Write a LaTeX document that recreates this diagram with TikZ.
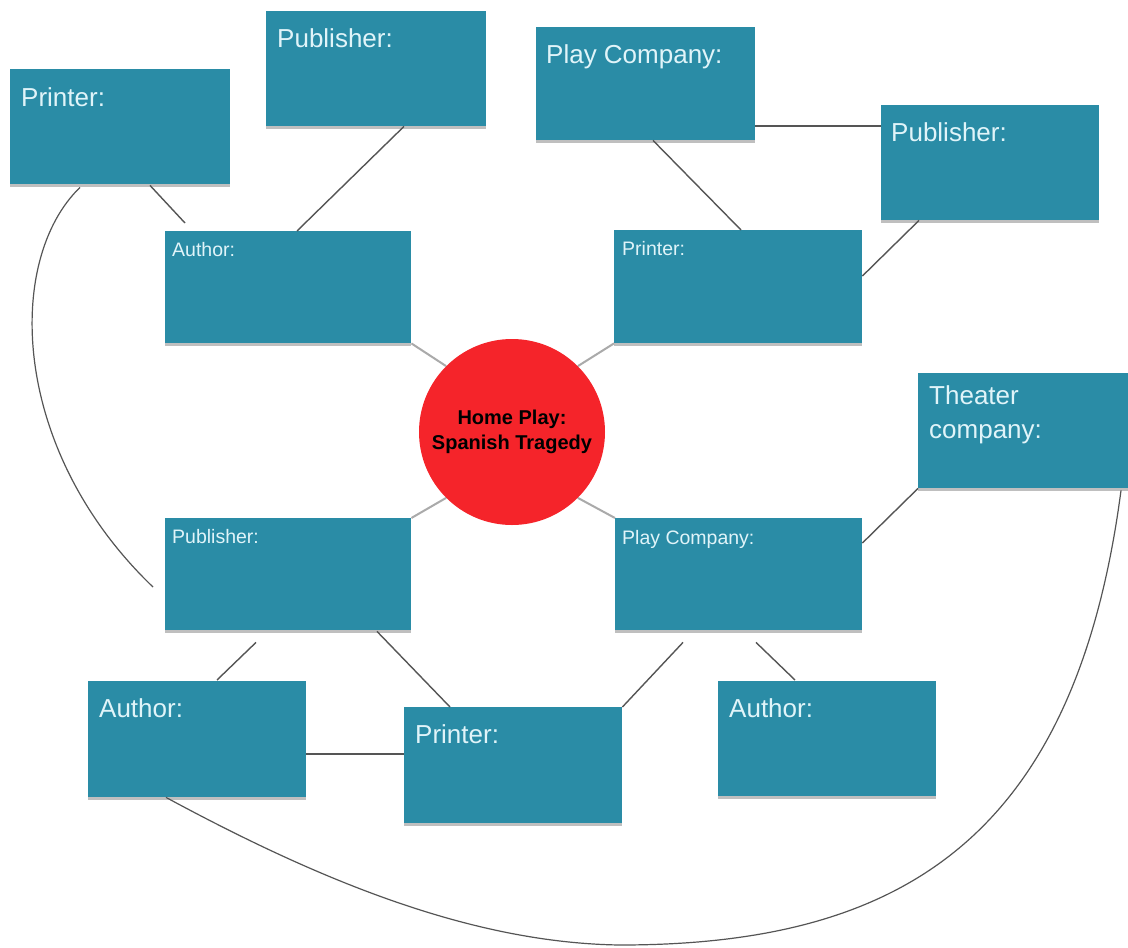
\documentclass[tikz,border=0pt]{standalone}
\usepackage{fontspec}
\setmainfont{Liberation Sans}
\usetikzlibrary{calc,shadows}
\definecolor{boxteal}{RGB}{42,140,166}
\definecolor{lbltext}{RGB}{224,244,249}
\definecolor{ballred}{RGB}{245,36,42}
\definecolor{linegray}{RGB}{85,85,85}
\definecolor{spokegray}{RGB}{170,170,170}
\tikzset{
  box/.style={rectangle, fill=boxteal, draw=none, inner sep=0pt, anchor=north west,
    drop shadow={shadow xshift=0pt, shadow yshift=-3pt, opacity=0.25, fill=black}},
  biglbl/.style={anchor=base west, inner sep=0pt, text=lbltext,
    font=\fontsize{26}{30}\selectfont},
  smalllbl/.style={anchor=base west, inner sep=0pt, text=lbltext,
    font=\fontsize{19.5}{23}\selectfont},
  conn/.style={draw=linegray, line width=1.4pt},
  spoke/.style={draw=spokegray, line width=2pt},
}
\begin{document}
\begin{tikzpicture}[x=1pt,y=-1pt]
\useasboundingbox[fill=white] (0,0) rectangle (1128,948);

\coordinate (low) at (620,945);

% boxes
\node[box, minimum width=220pt, minimum height=115pt] (p1)  at (10,69) {};
\node[box, minimum width=220pt, minimum height=115pt] (pu1) at (266,11) {};
\node[box, minimum width=219pt, minimum height=113pt] (pc1) at (536,27) {};
\node[box, minimum width=218pt, minimum height=115pt] (pu2) at (881,105) {};
\node[box, minimum width=246pt, minimum height=112pt] (a1)  at (165,231) {};
\node[box, minimum width=248pt, minimum height=113pt] (pr1) at (614,230) {};
\node[box, minimum width=215pt, minimum height=115pt] (th)  at (918,373) {};
\node[box, minimum width=246pt, minimum height=112pt] (pu3) at (165,518) {};
\node[box, minimum width=247pt, minimum height=112pt] (pc2) at (615,518) {};
\node[box, minimum width=218pt, minimum height=116pt] (a2)  at (88,681) {};
\node[box, minimum width=218pt, minimum height=116pt] (pr2) at (404,707) {};
\node[box, minimum width=218pt, minimum height=115pt] (a3)  at (718,681) {};

% centre circle
\node[circle, fill=ballred, minimum size=186pt, inner sep=0pt, align=center,
  font=\bfseries\fontsize{20}{25}\selectfont, text=black] (c) at (512,432)
  {Home Play:\\Spanish Tragedy};

% spokes
\draw[spoke] (a1.south east) -- (c.135);
\draw[spoke] (pr1.south west) -- (c.45);
\draw[spoke] (pu3.north east) -- (c.225);
\draw[spoke] (pc2.north west) -- (c.-45);

% connectors
\draw[conn] ($(p1.south west)+(140,1)$) -- ($(a1.north west)+(20,-8)$);
\draw[conn] ($(pu1.south west)+(138,0)$) -- ($(a1.north west)+(132,0)$);
\draw[conn] ($(pc1.south west)+(117,0)$) -- ($(pr1.north west)+(127,0)$);
\draw[conn] ($(pc1.north east)+(0,99)$) -- ($(pu2.north west)+(0,21)$);
\draw[conn] ($(pu2.south west)+(38,0)$) -- ($(pr1.north east)+(0,46)$);
\draw[conn] (th.south west) -- ($(pc2.north east)+(0,25)$);
\draw[conn] ($(pu3.south west)+(91,12)$) -- ($(a2.north west)+(129,-1)$);
\draw[conn] ($(pu3.south west)+(212,1)$) -- ($(pr2.north west)+(46,0)$);
\draw[conn] ($(pc2.south west)+(68,12)$) -- (pr2.north east);
\draw[conn] ($(pc2.south west)+(141,12)$) -- ($(a3.north west)+(77,-1)$);
\draw[conn] ($(a2.north east)+(0,73)$) -- ($(pr2.north west)+(0,47)$);
\draw[conn, line width=1.2pt] ($(p1.south west)+(70,3)$) .. controls (5,260) and (10,450) .. ($(pu3.north west)+(-12,69)$);
\draw[conn, line width=1.2pt] ($(a2.south west)+(78,0)$) .. controls (317,879) and (470,943) .. (low)
  .. controls (900,945) and (1075,840) .. ($(th.south west)+(203,2)$);

% labels
\node[biglbl] (p1t)  at ($(p1.north west)+(11,37)$) {Printer:};
\node[biglbl] (pu1t) at ($(pu1.north west)+(11,36)$) {Publisher:};
\node[biglbl] (pc1t) at ($(pc1.north west)+(10,36)$) {Play Company:};
\node[biglbl] (pu2t) at ($(pu2.north west)+(10,36)$) {Publisher:};
\node[biglbl, align=left, font=\fontsize{26}{34}\selectfont, anchor=north west]
  (tht) at ($(th.north west)+(11,12)$) {Theater\\company:};
\node[biglbl] (a2t)  at ($(a2.north west)+(11,36)$) {Author:};
\node[biglbl] (pr2t) at ($(pr2.north west)+(11,36)$) {Printer:};
\node[biglbl] (a3t)  at ($(a3.north west)+(11,36)$) {Author:};
\node[smalllbl] (a1t)  at ($(a1.north west)+(7,25)$) {Author:};
\node[smalllbl] (pr1t) at ($(pr1.north west)+(8,25)$) {Printer:};
\node[smalllbl] (pu3t) at ($(pu3.north west)+(7,25)$) {Publisher:};
\node[smalllbl] (pc2t) at ($(pc2.north west)+(7,26)$) {Play Company:};
\end{tikzpicture}
\end{document}
